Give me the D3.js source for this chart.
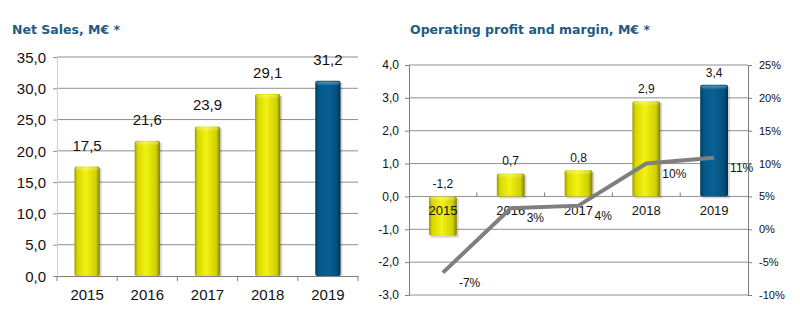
<!DOCTYPE html>
<html>
<head>
<meta charset="utf-8">
<script src="https://cdn.jsdelivr.net/npm/d3@7"></script>
<style>
  body { margin: 0; background: #fff; }
  text { font-family: "Liberation Sans", Arial, sans-serif; fill: #111; }
  .title { font-family: "DejaVu Sans", sans-serif; font-weight: bold; fill: #1d5b82; font-size: 12.5px; }
</style>
</head>
<body>
<div id="chart-area"></div>
<script>
var years = ["2015", "2016", "2017", "2018", "2019"];
var netSales = [17.5, 21.6, 23.9, 29.1, 31.2];
var opProfit = [-1.2, 0.7, 0.8, 2.9, 3.4];
var margin = [-6.6, 3.2, 3.6, 10.0, 10.9];
var salesTicks = [0, 5, 10, 15, 20, 25, 30, 35];
var profitTicks = [-3, -2, -1, 0, 1, 2, 3, 4];
var marginTicks = [-10, -5, 0, 5, 10, 15, 20, 25];

var fmt = function(v) { return d3.format(".1f")(v).replace(".", ",").replace("−", "-"); };

var svg = d3.select("#chart-area").append("svg")
    .attr("width", 800)
    .attr("height", 322);

var defs = svg.append("defs");
function grad(id, stops) {
    var g = defs.append("linearGradient").attr("id", id)
        .attr("x1", "0").attr("x2", "1").attr("y1", "0").attr("y2", "0");
    stops.forEach(function(s) {
        g.append("stop").attr("offset", s[0]).attr("stop-color", s[1]);
    });
}
grad("yel", [["0", "#9c9c00"], ["0.12", "#d8d800"], ["0.45", "#f2f214"], ["0.85", "#d0d000"], ["1", "#7e7e00"]]);
grad("blu", [["0", "#023d5e"], ["0.15", "#05598a"], ["0.5", "#0a6094"], ["0.85", "#04517d"], ["1", "#022f4a"]]);
var vg = defs.append("linearGradient").attr("id", "topshine")
    .attr("x1", "0").attr("x2", "0").attr("y1", "0").attr("y2", "1");
vg.append("stop").attr("offset", "0").attr("stop-color", "#fff").attr("stop-opacity", 0.35);
vg.append("stop").attr("offset", "1").attr("stop-color", "#fff").attr("stop-opacity", 0);

function barColor(i) { return i == years.length - 1 ? "url(#blu)" : "url(#yel)"; }

// ---------- Net sales ----------
svg.append("text").attr("class", "title")
    .attr("x", 12).attr("y", 34)
    .text("Net Sales, M€  *");

var x1 = d3.scaleBand().domain(years).range([57, 358]);
var y1 = d3.scaleLinear().domain([0, 35]).range([276, 57]);
var bw1 = x1.bandwidth() * 0.42;

var g1 = svg.append("g");

g1.selectAll(".grid").data(salesTicks.slice(1)).enter()
    .append("line")
    .attr("x1", 57).attr("x2", 358)
    .attr("y1", function(d) { return y1(d); })
    .attr("y2", function(d) { return y1(d); })
    .attr("stroke", "#8f8f8f");

g1.append("g")
    .attr("transform", "translate(57,0)")
    .call(d3.axisLeft(y1).tickValues(salesTicks).tickSize(4).tickFormat(fmt))
    .call(function(a) {
        a.select(".domain").attr("stroke", "#d0d0d0");
        a.selectAll("line").attr("stroke", "#8f8f8f");
        a.selectAll("text").attr("font-size", "15px").attr("x", -11).attr("dy", "0.35em");
    });

var bars1 = g1.selectAll(".bar").data(netSales).enter().append("g");
bars1.append("rect")
    .attr("x", function(d, i) { return x1(years[i]) + (x1.bandwidth() - bw1) / 2 + 2; })
    .attr("y", function(d) { return y1(d) + 2; })
    .attr("width", bw1)
    .attr("height", function(d) { return y1(0) - y1(d) - 2; })
    .attr("fill", "#000").attr("opacity", 0.15);
bars1.append("rect")
    .attr("x", function(d, i) { return x1(years[i]) + (x1.bandwidth() - bw1) / 2; })
    .attr("y", function(d) { return y1(d); })
    .attr("width", bw1)
    .attr("height", function(d) { return y1(0) - y1(d); })
    .attr("rx", 2)
    .attr("fill", function(d, i) { return barColor(i); });
bars1.append("rect")
    .attr("x", function(d, i) { return x1(years[i]) + (x1.bandwidth() - bw1) / 2 + 1; })
    .attr("y", function(d) { return y1(d) + 1; })
    .attr("width", bw1 - 2)
    .attr("height", 4)
    .attr("fill", "url(#topshine)");
bars1.append("text")
    .attr("x", function(d, i) { return x1(years[i]) + x1.bandwidth() / 2; })
    .attr("y", function(d) { return y1(d) - 16; })
    .attr("text-anchor", "middle")
    .attr("font-size", "15px")
    .text(fmt);

g1.append("g")
    .attr("transform", "translate(0," + y1(0) + ")")
    .call(d3.axisBottom(x1).tickSize(0).tickPadding(13))
    .call(function(a) {
        a.select(".domain").attr("stroke", "#7f7f7f");
        a.selectAll("text").attr("font-size", "15px").attr("dy", "0.71em");
    });
g1.selectAll(".sep").data(years.concat(["end"])).enter()
    .append("line")
    .attr("x1", function(d, i) { return 57 + i * x1.step(); })
    .attr("x2", function(d, i) { return 57 + i * x1.step(); })
    .attr("y1", y1(0)).attr("y2", y1(0) + 5)
    .attr("stroke", "#7f7f7f");

// ---------- Operating profit ----------
svg.append("text").attr("class", "title")
    .attr("x", 410).attr("y", 34)
    .text("Operating profit and margin, M€ *");

var x2 = d3.scaleBand().domain(years).range([409, 748]);
var y2 = d3.scaleLinear().domain([-3, 4]).range([295, 65]);
var yr = d3.scaleLinear().domain([-10, 25]).range([295, 65]);
var bw2 = x2.bandwidth() * 0.41;

var g2 = svg.append("g");

g2.selectAll(".grid").data(profitTicks).enter()
    .append("line")
    .attr("x1", 409).attr("x2", 748)
    .attr("y1", function(d) { return y2(d); })
    .attr("y2", function(d) { return y2(d); })
    .attr("stroke", "#8f8f8f");

g2.append("g")
    .attr("transform", "translate(409,0)")
    .call(d3.axisLeft(y2).tickValues(profitTicks).tickSize(4).tickFormat(fmt))
    .call(function(a) {
        a.select(".domain").attr("stroke", "#7f7f7f");
        a.selectAll("line").attr("stroke", "#7f7f7f");
        a.selectAll("text").attr("font-size", "12px").attr("x", -10);
    });

g2.append("g")
    .attr("transform", "translate(748,0)")
    .call(d3.axisRight(yr).tickValues(marginTicks).tickSize(4).tickFormat(function(d) { return d + "%"; }))
    .call(function(a) {
        a.select(".domain").attr("stroke", "#7f7f7f");
        a.selectAll("line").attr("stroke", "#7f7f7f");
        a.selectAll("text").attr("font-size", "11px").attr("x", 11);
    });

var bars2 = g2.selectAll(".bar").data(opProfit).enter().append("g");
bars2.append("rect")
    .attr("x", function(d, i) { return x2(years[i]) + (x2.bandwidth() - bw2) / 2 + 2; })
    .attr("y", function(d) { return Math.min(y2(d), y2(0)) + 2; })
    .attr("width", bw2)
    .attr("height", function(d) { return Math.abs(y2(0) - y2(d)); })
    .attr("fill", "#000").attr("opacity", 0.15);
bars2.append("rect")
    .attr("x", function(d, i) { return x2(years[i]) + (x2.bandwidth() - bw2) / 2; })
    .attr("y", function(d) { return Math.min(y2(d), y2(0)); })
    .attr("width", bw2)
    .attr("height", function(d) { return Math.abs(y2(0) - y2(d)); })
    .attr("rx", 2)
    .attr("fill", function(d, i) { return barColor(i); });
bars2.append("rect")
    .attr("x", function(d, i) { return x2(years[i]) + (x2.bandwidth() - bw2) / 2 + 1; })
    .attr("y", function(d) { return Math.min(y2(d), y2(0)) + 1; })
    .attr("width", bw2 - 2)
    .attr("height", 4)
    .attr("fill", "url(#topshine)");
bars2.append("text")
    .attr("x", function(d, i) { return x2(years[i]) + x2.bandwidth() / 2; })
    .attr("y", function(d) { return Math.min(y2(d), y2(0)) - 8; })
    .attr("text-anchor", "middle")
    .attr("font-size", "12px")
    .text(fmt);

g2.append("g")
    .attr("transform", "translate(0," + y2(0) + ")")
    .call(d3.axisBottom(x2).tickSize(0).tickPadding(9))
    .call(function(a) {
        a.select(".domain").remove();
        a.selectAll("text").attr("font-size", "13px");
    });
g2.selectAll(".sep").data(years.slice(1)).enter()
    .append("line")
    .attr("x1", function(d) { return x2(d); })
    .attr("x2", function(d) { return x2(d); })
    .attr("y1", y2(0) - 4).attr("y2", y2(0))
    .attr("stroke", "#7f7f7f");

var line = d3.line()
    .x(function(d, i) { return x2(years[i]) + x2.bandwidth() / 2; })
    .y(function(d) { return yr(d); });

g2.append("path")
    .datum(margin)
    .attr("d", line)
    .attr("fill", "none")
    .attr("stroke", "#7f7f7f")
    .attr("stroke-width", 4);

g2.selectAll(".mlab").data(margin).enter()
    .append("text")
    .attr("x", function(d, i) { return x2(years[i]) + x2.bandwidth() / 2 + 16; })
    .attr("y", function(d) { return yr(d) + 14; })
    .attr("font-size", "12px")
    .text(function(d) { return Math.round(d) + "%"; });
</script>
</body>
</html>
